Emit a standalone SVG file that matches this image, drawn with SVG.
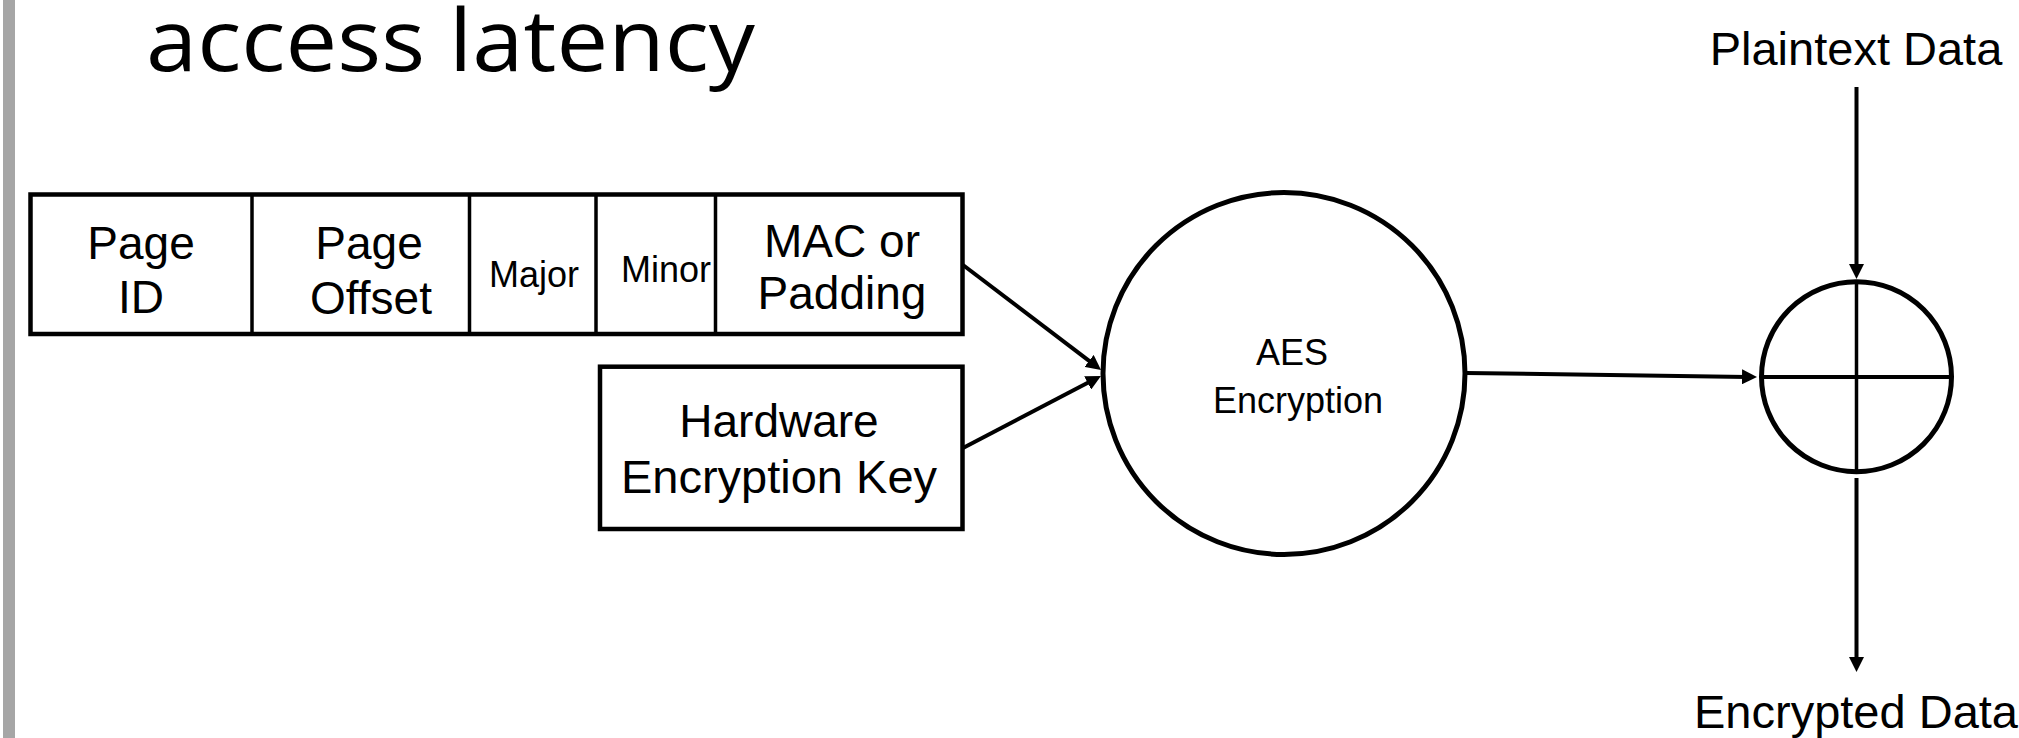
<svg xmlns="http://www.w3.org/2000/svg" width="2019" height="738" viewBox="0 0 2019 738">
  <style>
    .lbl { font-family: "Liberation Sans", Arial, Helvetica, sans-serif; fill: #000; text-anchor: middle; }
    .big { font-size: 46px; }
    .mid { font-size: 36px; }
    .small { font-size: 36px; }
    .io { font-size: 47px; }
    .title { font-family: "Open Sans", "Liberation Sans", sans-serif; font-size: 86px; fill: #000; }
    .frame { fill: #fff; stroke: #000; stroke-width: 4.5; }
    .divider { stroke: #000; stroke-width: 3.5; }
    .wire { stroke: #000; stroke-width: 4; fill: none; marker-end: url(#head); }
  </style>
  <defs>
    <marker id="head" markerUnits="userSpaceOnUse" markerWidth="15" markerHeight="15" refX="5" refY="7.5" orient="auto">
      <path d="M0,0 L15,7.5 L0,15 z" fill="#000"/>
    </marker>
  </defs>

  <rect width="2019" height="738" fill="#fff"/>
  <!-- slide edge bar -->
  <rect x="3" y="0" width="12" height="738" fill="#a6a6a6"/>

  <!-- title line -->
  <text class="title" x="146" y="71" textLength="609" lengthAdjust="spacingAndGlyphs">access latency</text>

  <!-- counter block fields -->
  <g id="counter-block">
    <rect class="frame" x="30.5" y="194.5" width="932" height="139.5"/>
    <line class="divider" x1="252" y1="194.5" x2="252" y2="334"/>
    <line class="divider" x1="469.5" y1="194.5" x2="469.5" y2="334"/>
    <line class="divider" x1="596" y1="194.5" x2="596" y2="334"/>
    <line class="divider" x1="715.5" y1="194.5" x2="715.5" y2="334"/>
    <text class="lbl big" x="141" y="259">Page</text>
    <text class="lbl big" x="141" y="313">ID</text>
    <text class="lbl big" x="369" y="259">Page</text>
    <text class="lbl big" x="371" y="314">Offset</text>
    <text class="lbl small" x="534" y="287">Major</text>
    <text class="lbl small" x="666" y="282">Minor</text>
    <text class="lbl big" x="842" y="257">MAC or</text>
    <text class="lbl big" x="842" y="309">Padding</text>
  </g>

  <g id="hardware-key">
    <rect class="frame" x="600" y="366.7" width="362.5" height="162.3"/>
    <text class="lbl big" x="779" y="437">Hardware</text>
    <text class="lbl io" x="779" y="493">Encryption Key</text>
  </g>

  <g id="aes">
    <circle cx="1284" cy="373.5" r="181" fill="#fff" stroke="#000" stroke-width="5"/>
    <text class="lbl mid" x="1292" y="365">AES</text>
    <text class="lbl mid" x="1298" y="413">Encryption</text>
  </g>

  <g id="xor">
    <circle cx="1856.5" cy="376.7" r="95" fill="#fff" stroke="#000" stroke-width="5"/>
    <line x1="1856.5" y1="281.7" x2="1856.5" y2="471.7" stroke="#000" stroke-width="3.5"/>
    <line x1="1761.5" y1="377" x2="1951.5" y2="377" stroke="#000" stroke-width="4"/>
  </g>

  <g id="plaintext">
    <text class="lbl io" x="1856" y="65">Plaintext Data</text>
  </g>
  <g id="ciphertext">
    <text class="lbl io" x="1856" y="728">Encrypted Data</text>
  </g>

  <g id="connectors">
    <line class="wire" x1="963" y1="265" x2="1093.1" y2="363.9"/>
    <line class="wire" x1="963" y1="448" x2="1092.1" y2="380.6"/>
    <line class="wire" x1="1466" y1="373" x2="1747" y2="376.9"/>
    <line class="wire" x1="1856.5" y1="87" x2="1856.5" y2="269"/>
    <line class="wire" x1="1856.5" y1="478" x2="1856.5" y2="662"/>
  </g>
</svg>
